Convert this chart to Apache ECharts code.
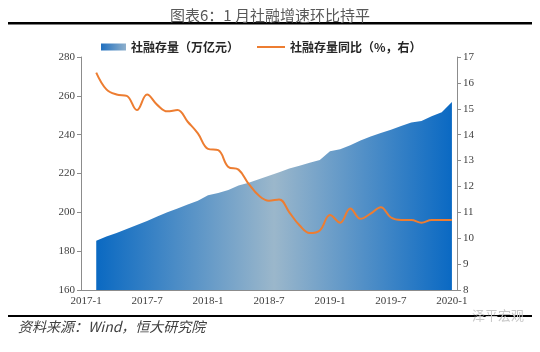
<!DOCTYPE html>
<html>
<head>
<meta charset="utf-8">
<script src="https://cdn.jsdelivr.net/npm/echarts@6/dist/echarts.min.js"></script>
<style>
    html, body { margin: 0; padding: 0; background: #fff; }
    #main { width: 540px; height: 352px; }
</style>
</head>
<body>
<div id="main"></div>
<script>
// 月份（2017-1 至 2020-1），2017-1 无数据
var months = ['2017-1', '2017-2', '2017-3', '2017-4', '2017-5', '2017-6', '2017-7', '2017-8', '2017-9', '2017-10', '2017-11', '2017-12',
    '2018-1', '2018-2', '2018-3', '2018-4', '2018-5', '2018-6', '2018-7', '2018-8', '2018-9', '2018-10', '2018-11', '2018-12',
    '2019-1', '2019-2', '2019-3', '2019-4', '2019-5', '2019-6', '2019-7', '2019-8', '2019-9', '2019-10', '2019-11', '2019-12',
    '2020-1'];
// 社融存量（万亿元）
var stock = ['-', 185.4, 187.5, 189.3, 191.4, 193.5, 195.5, 197.8, 200.0, 202.0, 204.0, 206.0,
    208.8, 210.0, 211.5, 213.8, 215.2, 217.0, 218.8, 220.6, 222.6, 224.0, 225.5, 227.0,
    231.5, 232.5, 234.5, 237.0, 239.0, 240.8, 242.5, 244.5, 246.3, 247.0, 249.5, 251.5,
    256.8];
// 社融存量同比（%）
var growth = ['-', 16.4, 15.75, 15.55, 15.5, 14.95, 15.55, 15.15, 14.9, 14.95, 14.5, 14.05,
    13.45, 13.4, 12.75, 12.65, 12.1, 11.65, 11.45, 11.5, 11.0, 10.5, 10.2, 10.3,
    10.9, 10.6, 11.15, 10.75, 10.95, 11.2, 10.8, 10.7, 10.7, 10.6, 10.7, 10.7,
    10.7];

var myChart = echarts.init(document.getElementById('main'));

var areaGradient = new echarts.graphic.LinearGradient(0, 0, 1, 0, [
    {offset: 0, color: '#0a69c2'},
    {offset: 0.5, color: '#9bb7cb'},
    {offset: 1, color: '#0a69c3'}
]);
var legendGradient = new echarts.graphic.LinearGradient(0, 0, 1, 0, [
    {offset: 0, color: '#1f6fbf'},
    {offset: 1, color: '#8fb0cc'}
]);

var labelFont = {
    fontFamily: 'Liberation Serif',
    fontSize: 11,
    color: '#404040'
};
var axisLineStyle = {color: '#8c8c8c', width: 1};

var option = {
    animation: false,
    title: {
        text: '图表6：1 月社融增速环比持平',
        left: 'center',
        top: 3,
        textStyle: {
            fontFamily: 'Noto Sans CJK SC',
            fontSize: 15,
            fontWeight: 'normal',
            color: '#595959'
        }
    },
    legend: [{
        data: [{name: '社融存量（万亿元）', icon: 'rect', itemStyle: {color: legendGradient}}],
        left: 96,
        top: 36,
        itemWidth: 25,
        itemHeight: 7,
        itemGap: 4,
        textStyle: {fontFamily: 'Noto Sans CJK SC', fontSize: 12, fontWeight: 'bold', color: '#262626'}
    }, {
        data: [{name: '社融存量同比（%，右）', icon: 'rect'}],
        left: 252,
        top: 36,
        itemWidth: 28,
        itemHeight: 2,
        itemGap: 4,
        textStyle: {fontFamily: 'Noto Sans CJK SC', fontSize: 12, fontWeight: 'bold', color: '#262626'}
    }],
    grid: {
        left: 81,
        right: 83,
        top: 57,
        bottom: 62
    },
    xAxis: {
        type: 'category',
        data: months,
        boundaryGap: true,
        axisLine: {lineStyle: axisLineStyle},
        axisTick: {interval: 5, length: 4, lineStyle: axisLineStyle},
        axisLabel: Object.assign({interval: 5, margin: 6}, labelFont)
    },
    yAxis: [{
        type: 'value',
        min: 160,
        max: 280,
        interval: 20,
        splitLine: {show: false},
        axisLine: {show: true, lineStyle: axisLineStyle},
        axisTick: {show: true, length: 4, lineStyle: axisLineStyle},
        axisLabel: Object.assign({margin: 6}, labelFont)
    }, {
        type: 'value',
        min: 8,
        max: 17,
        interval: 1,
        position: 'right',
        splitLine: {show: false},
        axisLine: {show: true, lineStyle: axisLineStyle},
        axisTick: {show: true, length: 4, lineStyle: axisLineStyle},
        axisLabel: Object.assign({margin: 6}, labelFont)
    }],
    series: [{
        name: '社融存量（万亿元）',
        type: 'line',
        data: stock,
        yAxisIndex: 0,
        showSymbol: false,
        connectNulls: false,
        lineStyle: {width: 0},
        itemStyle: {color: '#1f6fbf'},
        areaStyle: {color: areaGradient, opacity: 1}
    }, {
        name: '社融存量同比（%，右）',
        type: 'line',
        data: growth,
        yAxisIndex: 1,
        smooth: 0.4,
        showSymbol: false,
        itemStyle: {color: '#ed7d31'},
        lineStyle: {color: '#ed7d31', width: 2}
    }],
    graphic: [{
        type: 'rect',
        shape: {x: 8, y: 22, width: 524, height: 2.5},
        style: {fill: '#000'}
    }, {
        type: 'rect',
        shape: {x: 8, y: 315, width: 524, height: 2},
        style: {fill: '#000'}
    }, {
        type: 'text',
        left: 18,
        top: 320,
        style: {
            text: '资料来源：Wind，恒大研究院',
            font: 'italic 14px "Noto Sans CJK SC"',
            fill: '#404040'
        }
    }, {
        type: 'text',
        left: 472,
        top: 309,
        style: {
            text: '泽平宏观',
            font: '13px "Noto Sans CJK SC"',
            fill: '#c8c8c8'
        }
    }]
};
myChart.setOption(option);
</script>
</body>
</html>
